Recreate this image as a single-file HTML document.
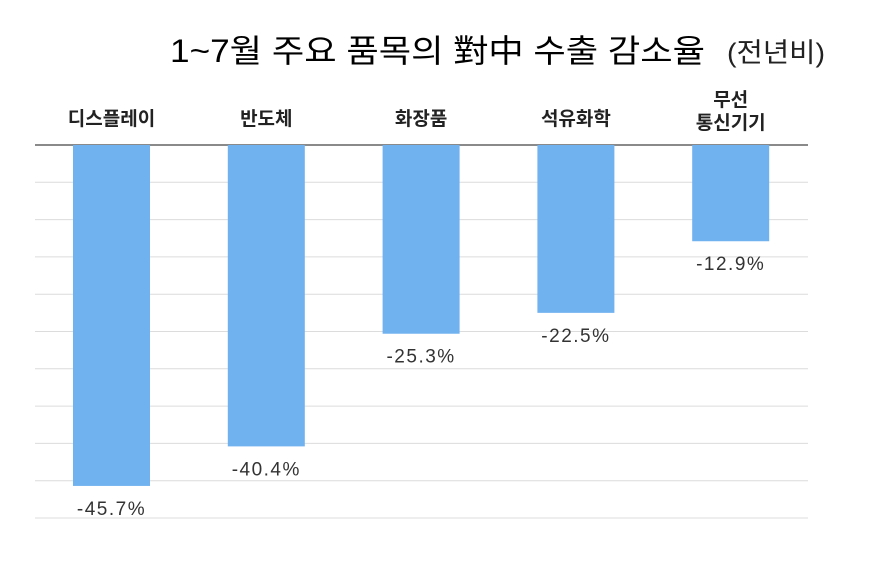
<!DOCTYPE html>
<html><head><meta charset="utf-8"><style>
body{margin:0;background:#fff;width:878px;height:585px;overflow:hidden;font-family:"Liberation Sans","Noto Sans CJK KR",sans-serif}
svg{display:block}
</style></head><body>
<svg id="chart" width="878" height="585">
<text x="170" y="62" font-size="32" fill="#000" textLength="535" lengthAdjust="spacingAndGlyphs" font-family="Liberation Sans, Noto Sans CJK KR, sans-serif">1~7월 주요 품목의 對中 수출 감소율</text>
<text x="727" y="62" font-size="27" fill="#222" textLength="98" lengthAdjust="spacingAndGlyphs" font-family="Liberation Sans, Noto Sans CJK KR, sans-serif">(전년비)</text>
<g id="grid"></g><g id="bars"></g><g id="labels"></g>
</svg>
<script>
const categories=["디스플레이","반도체","화장품","석유화학","무선|통신기기"];
const values=[-45.7,-40.4,-25.3,-22.5,-12.9];
const valueLabels=["-45.7%","-40.4%","-25.3%","-22.5%","-12.9%"];
const gridTicks=[0,-5,-10,-15,-20,-25,-30,-35,-40,-45,-50];
const NS="http://www.w3.org/2000/svg";
const y0=145,pxPer=7.46;
function yScale(v){return y0-v*pxPer;}
function xCenter(i){return 111.5+i*154.8;}
const bw=77;
function mk(t,a,p){const e=document.createElementNS(NS,t);for(const k in a)e.setAttribute(k,a[k]);p.appendChild(e);return e;}
const grid=document.getElementById('grid'),bars=document.getElementById('bars'),labels=document.getElementById('labels');
gridTicks.forEach((t,i)=>{
 const l=mk('line',{x1:35,x2:808,y1:yScale(t),y2:yScale(t),stroke:i===0?'#444':'#dcdcdc','stroke-width':i===0?1.2:1},grid);
 
 
});
values.forEach((v,i)=>{
 const cx=xCenter(i);
 const r=mk('rect',{x:cx-bw/2,y:yScale(0),width:bw,height:yScale(v)-yScale(0),fill:'#70b1f0'},bars);
 
 
 const t=mk('text',{x:cx,y:yScale(v)+29,'text-anchor':'middle','font-size':19,fill:'#333','letter-spacing':'1.5'},labels);
 t.textContent=valueLabels[i];
 
 
 const parts=categories[i].split('|');
 parts.forEach((p,j)=>{
  const c=mk('text',{x:cx,y:(parts.length>1?106:125)+j*23,'text-anchor':'middle','font-size':19,'font-weight':'bold',fill:'#222'},labels);
  c.textContent=p;
  
  
 });
});
</script>
</body></html>
